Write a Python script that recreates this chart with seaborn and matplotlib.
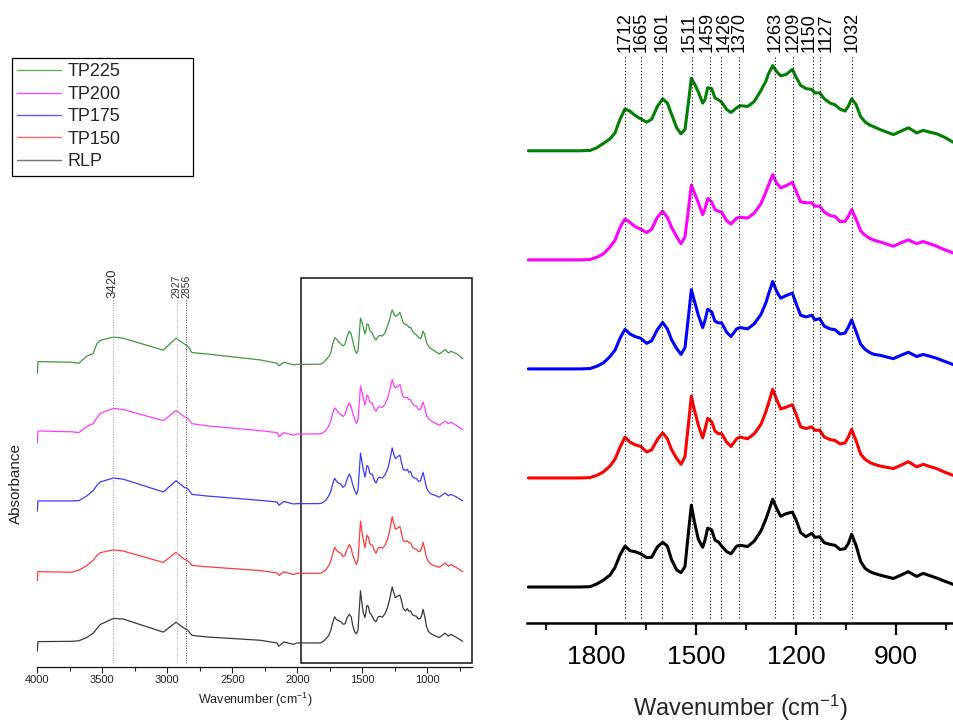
import numpy as np
import pandas as pd
import matplotlib
matplotlib.use("Agg")
import matplotlib.pyplot as plt
import matplotlib.transforms as mtransforms
from matplotlib.patches import Rectangle
from matplotlib.lines import Line2D
from matplotlib.ticker import FixedLocator
import seaborn as sns

# ---------------- data ----------------
samples = ["RLP", "TP150", "TP175", "TP200", "TP225"]
offsets = [0.0, 1.28, 2.56, 3.84, 5.12]

# 4000-2030 cm-1 region (left panel)
hi_wn = [4000, 3995, 3733, 3680, 3620, 3570, 3540, 3515, 3415, 3340, 3031,
         2933, 2870, 2845, 2810, 2695, 2285, 2156, 2141, 2105, 2030]
hi_RLP = [-0.15, 0.025, 0.03, 0.04, 0.10, 0.18, 0.27, 0.34, 0.45, 0.44, 0.20,
          0.38, 0.27, 0.24, 0.14, 0.11, 0.05, 0.0, -0.06, 0.02, -0.025]
hi_TP150 = [-0.135, 0.03, 0.02, 0.06, 0.14, 0.24, 0.33, 0.38, 0.43, 0.41, 0.20,
            0.385, 0.26, 0.235, 0.145, 0.12, 0.05, 0.006, -0.04, 0.03, -0.025]
hi_TP175 = [-0.14, 0.05, 0.05, 0.055, 0.14, 0.24, 0.34, 0.40, 0.47, 0.45, 0.215,
            0.42, 0.30, 0.28, 0.17, 0.14, 0.06, 0.03, -0.03, 0.04, -0.006]
hi_TP200 = [-0.17, 0.055, 0.04, 0.025, 0.135, 0.19, 0.30, 0.38, 0.47, 0.45, 0.245,
            0.43, 0.32, 0.29, 0.19, 0.15, 0.06, 0.025, -0.05, 0.025, -0.02]
hi_TP225 = [-0.17, 0.05, 0.037, 0.02, 0.15, 0.20, 0.386, 0.44, 0.50, 0.48, 0.26,
            0.48, 0.375, 0.34, 0.215, 0.19, 0.08, 0.02, -0.03, 0.037, -0.01]

# 2003-728 cm-1 fingerprint region (both panels)
fp_wn = [2003, 1848, 1818, 1798, 1778, 1758, 1743, 1728, 1713, 1698,
         1683, 1666, 1648, 1633, 1616, 1600, 1586, 1573, 1558, 1545,
         1533, 1523, 1514, 1505, 1493, 1480, 1473, 1465, 1453, 1443,
         1433, 1423, 1408, 1395, 1378, 1368, 1345, 1325, 1305, 1290,
         1283, 1270, 1258, 1246, 1230, 1211, 1199, 1186, 1170, 1153,
         1143, 1129, 1115, 1098, 1083, 1068, 1053, 1043, 1033, 1020,
         1006, 993, 978, 965, 948, 928, 908, 885, 863, 850,
         838, 818, 800, 778, 755, 728]
fp_TP225 = [0, 0, 0.004, 0.035, 0.086, 0.14, 0.21, 0.37, 0.49, 0.465,
            0.415, 0.375, 0.336, 0.37, 0.52, 0.61, 0.56, 0.426, 0.27, 0.20,
            0.25, 0.56, 0.85, 0.79, 0.69, 0.56, 0.60, 0.74, 0.73, 0.62,
            0.60, 0.57, 0.485, 0.45, 0.505, 0.53, 0.52, 0.58, 0.71, 0.82,
            0.90, 1.0, 0.93, 0.88, 0.895, 0.955, 0.86, 0.767, 0.73, 0.72,
            0.68, 0.68, 0.61, 0.56, 0.54, 0.49, 0.466, 0.524, 0.61, 0.544,
            0.40, 0.34, 0.30, 0.28, 0.25, 0.22, 0.19, 0.23, 0.27, 0.24,
            0.21, 0.24, 0.22, 0.20, 0.16, 0.10]
fp_TP200 = [0, 0, 0.004, 0.03, 0.07, 0.15, 0.23, 0.38, 0.48, 0.44,
            0.39, 0.36, 0.32, 0.36, 0.50, 0.57, 0.50, 0.38, 0.27, 0.19,
            0.27, 0.58, 0.88, 0.79, 0.67, 0.53, 0.60, 0.72, 0.68, 0.59,
            0.57, 0.56, 0.46, 0.42, 0.49, 0.50, 0.49, 0.55, 0.66, 0.80,
            0.87, 1.0, 0.90, 0.845, 0.87, 0.91, 0.80, 0.68, 0.67, 0.67,
            0.63, 0.63, 0.56, 0.52, 0.51, 0.45, 0.45, 0.51, 0.59, 0.48,
            0.34, 0.29, 0.25, 0.23, 0.21, 0.185, 0.16, 0.20, 0.235, 0.21,
            0.19, 0.215, 0.19, 0.16, 0.12, 0.08]
fp_TP175 = [0, 0, 0.004, 0.03, 0.07, 0.145, 0.22, 0.36, 0.465, 0.41,
            0.38, 0.36, 0.30, 0.33, 0.46, 0.545, 0.47, 0.34, 0.24, 0.17,
            0.25, 0.60, 0.93, 0.80, 0.63, 0.485, 0.57, 0.70, 0.67, 0.56,
            0.54, 0.54, 0.43, 0.38, 0.47, 0.485, 0.47, 0.53, 0.64, 0.78,
            0.87, 1.025, 0.91, 0.83, 0.86, 0.89, 0.76, 0.63, 0.61, 0.63,
            0.575, 0.59, 0.50, 0.47, 0.46, 0.41, 0.42, 0.49, 0.575, 0.44,
            0.29, 0.23, 0.19, 0.17, 0.16, 0.14, 0.12, 0.16, 0.195, 0.17,
            0.145, 0.17, 0.15, 0.125, 0.09, 0.05]
fp_TP150 = [0, 0, 0.004, 0.03, 0.07, 0.14, 0.22, 0.36, 0.48, 0.42,
            0.39, 0.37, 0.305, 0.33, 0.45, 0.53, 0.46, 0.33, 0.23, 0.16,
            0.25, 0.62, 0.96, 0.80, 0.62, 0.47, 0.57, 0.70, 0.66, 0.55,
            0.52, 0.52, 0.42, 0.37, 0.46, 0.48, 0.46, 0.52, 0.63, 0.78,
            0.87, 1.04, 0.92, 0.81, 0.83, 0.86, 0.74, 0.60, 0.58, 0.60,
            0.56, 0.56, 0.48, 0.45, 0.44, 0.40, 0.41, 0.48, 0.57, 0.44,
            0.28, 0.22, 0.18, 0.16, 0.14, 0.125, 0.11, 0.15, 0.19, 0.16,
            0.13, 0.16, 0.135, 0.11, 0.07, 0.03]
fp_RLP = [0, 0, 0.004, 0.035, 0.08, 0.14, 0.23, 0.376, 0.48, 0.426,
          0.415, 0.39, 0.345, 0.35, 0.47, 0.525, 0.48, 0.317, 0.20, 0.168,
          0.24, 0.63, 0.96, 0.77, 0.56, 0.466, 0.55, 0.69, 0.67, 0.55,
          0.53, 0.48, 0.415, 0.39, 0.48, 0.49, 0.475, 0.54, 0.66, 0.80,
          0.88, 1.03, 0.92, 0.83, 0.86, 0.88, 0.78, 0.638, 0.59, 0.63,
          0.583, 0.59, 0.52, 0.50, 0.49, 0.44, 0.45, 0.51, 0.62, 0.49,
          0.30, 0.22, 0.18, 0.16, 0.14, 0.12, 0.10, 0.14, 0.18, 0.15,
          0.125, 0.16, 0.135, 0.105, 0.07, 0.03]

hi_vals = {"RLP": hi_RLP, "TP150": hi_TP150, "TP175": hi_TP175, "TP200": hi_TP200, "TP225": hi_TP225}
fp_vals = {"RLP": fp_RLP, "TP150": fp_TP150, "TP175": fp_TP175, "TP200": fp_TP200, "TP225": fp_TP225}

left_marks = [3420, 2927, 2856]
right_marks = [1712, 1665, 1601, 1511, 1459, 1426, 1370, 1263, 1209, 1150, 1127, 1032]

left_colors = {"RLP": "#3a3a3a", "TP150": "#ff3b3b", "TP175": "#3b3bff", "TP200": "#ff3bff", "TP225": "#3f9a3f"}
right_colors = {"RLP": "#000000", "TP150": "#ff0000", "TP175": "#0000ff", "TP200": "#ff00ff", "TP225": "#008000"}
legend_colors = {"RLP": "#6f6f6f", "TP150": "#ff6b6b", "TP175": "#5a5aff", "TP200": "#f050f0", "TP225": "#5cb05c"}

# ---------------- styling ----------------
sns.set_theme(style="white")
plt.rcParams["font.family"] = ["Liberation Sans", "DejaVu Sans"]
plt.rcParams["mathtext.fontset"] = "custom"
plt.rcParams["mathtext.rm"] = "Liberation Sans"
plt.rcParams["mathtext.it"] = "Liberation Sans"
plt.rcParams["mathtext.bf"] = "Liberation Sans"

W, H = 954, 724
fig = plt.figure(figsize=(W / 100, H / 100), dpi=100)

def fx(px):
    return px / W

def fy(py):
    return 1 - py / H

axL = fig.add_axes([fx(37.3), fy(666.7), fx(472.3 - 37.3), (666.7 - 250) / H])
axR = fig.add_axes([fx(527), fy(623.3), fx(954 - 527), 623.3 / H])

# ---------------- left panel ----------------
for s, off in zip(samples, offsets):
    wn = hi_wn + fp_wn
    ab = np.array(hi_vals[s] + fp_vals[s]) + off
    df = pd.DataFrame({"wn": wn, "ab": ab})
    sns.lineplot(data=df, x="wn", y="ab", ax=axL, color=left_colors[s], lw=0.9,
                 sort=False, estimator=None)

axL.set_xlim(4000, 654)
axL.set_ylim(-0.436, 7.22)
axL.xaxis.set_major_locator(FixedLocator([4000, 3500, 3000, 2500, 2000, 1500, 1000]))
axL.xaxis.set_minor_locator(FixedLocator([3750, 3250, 2750, 2250, 1750, 1250, 750]))
axL.tick_params(axis="x", which="major", direction="out", length=4, width=0.8,
                labelsize=8, pad=2, bottom=True, colors="#222222")
axL.tick_params(axis="x", which="minor", direction="out", length=3, width=0.8, bottom=True,
                colors="#222222")
axL.set_yticks([])
for sp in ["top", "right", "left"]:
    axL.spines[sp].set_visible(False)
axL.spines["bottom"].set_linewidth(0.9)
axL.spines["bottom"].set_color("#111111")
axL.set_xlabel("Wavenumber (cm$^{-1}$)", fontsize=9, labelpad=4, color="#222222")
axL.set_ylabel("")

trL = mtransforms.blended_transform_factory(axL.transData, axL.transAxes)
ytop_L = (666.7 - 300) / (666.7 - 250)
ybot_L = (666.7 - 663.3) / (666.7 - 250)
for m, col, fs in zip(left_marks, ["#9a9a9a", "#b0b0b0", "#404040"], [9.5, 7.5, 7.5]):
    axL.plot([m, m], [ybot_L, ytop_L], transform=trL, color=col, lw=0.7,
             ls=(0, (1, 1.5)), clip_on=False)
    axL.text(m, ytop_L + 0.005, str(m), transform=trL, rotation=90, ha="center",
             va="bottom", fontsize=fs, color="#333333")

rect = Rectangle((1972, ybot_L), 654 - 1972, (666.7 - 278) / (666.7 - 250) - ybot_L,
                 transform=trL, fill=False, edgecolor="#111111", lw=1.1, clip_on=False)
axL.add_patch(rect)

fig.text(fx(16), fy(484), "Absorbance", rotation=90, ha="center", va="center",
         fontsize=11, color="#222222")

# ---------------- right panel ----------------
for s, off in zip(samples, offsets):
    df = pd.DataFrame({"wn": fp_wn, "ab": np.array(fp_vals[s]) + off})
    sns.lineplot(data=df, x="wn", y="ab", ax=axR, color=right_colors[s], lw=2.2,
                 sort=False, estimator=None)

axR.set_xlim(2007, 726)
axR.set_ylim(-0.426, 6.89)
axR.xaxis.set_major_locator(FixedLocator([1800, 1500, 1200, 900]))
axR.xaxis.set_minor_locator(FixedLocator([1950, 1650, 1350, 1050, 750]))
axR.tick_params(axis="x", which="major", direction="out", length=8.5, width=1.6,
                labelsize=19, pad=7, bottom=True, colors="black")
axR.tick_params(axis="x", which="minor", direction="out", length=5, width=1.6, bottom=True)
axR.set_yticks([])
for sp in ["top", "right", "left"]:
    axR.spines[sp].set_visible(False)
axR.spines["bottom"].set_linewidth(1.8)
axR.spines["bottom"].set_color("black")
axR.set_xlabel("Wavenumber (cm$^{-1}$)", fontsize=17, labelpad=17)
axR.set_ylabel("")

trR = mtransforms.blended_transform_factory(axR.transData, axR.transAxes)
ytop_R = (623.3 - 55) / 623.3
ybot_R = (623.3 - 618) / 623.3
label_shift_px = {1511: -3.6, 1459: -2.7, 1426: 3.0, 1150: -3.8, 1127: 5.8}
for m in right_marks:
    axR.plot([m, m], [ybot_R, ytop_R], transform=trR, color="black", lw=0.8,
             ls=(0, (1, 2)), clip_on=False)
    shift = mtransforms.ScaledTranslation(label_shift_px.get(m, 0.0) / 100, 0,
                                          fig.dpi_scale_trans)
    axR.text(m, (623.3 - 52) / 623.3, str(m), transform=trR + shift, rotation=90,
             ha="center", va="bottom", fontsize=13, color="black")

# ---------------- legend ----------------
handles = [Line2D([0], [0], color=legend_colors[s], lw=1.0) for s in samples[::-1]]
leg = fig.legend(handles, samples[::-1], loc="upper left",
                 bbox_to_anchor=(fx(12), fy(176), fx(193 - 12), (176 - 58) / H),
                 bbox_transform=fig.transFigure, mode="expand",
                 frameon=True, fancybox=False, edgecolor="black", framealpha=1,
                 borderaxespad=0, fontsize=13, handlelength=2.4, handletextpad=0.4,
                 labelspacing=0.3, borderpad=0.3)
leg.get_frame().set_linewidth(0.9)

fig.savefig("out.png", dpi=100)
